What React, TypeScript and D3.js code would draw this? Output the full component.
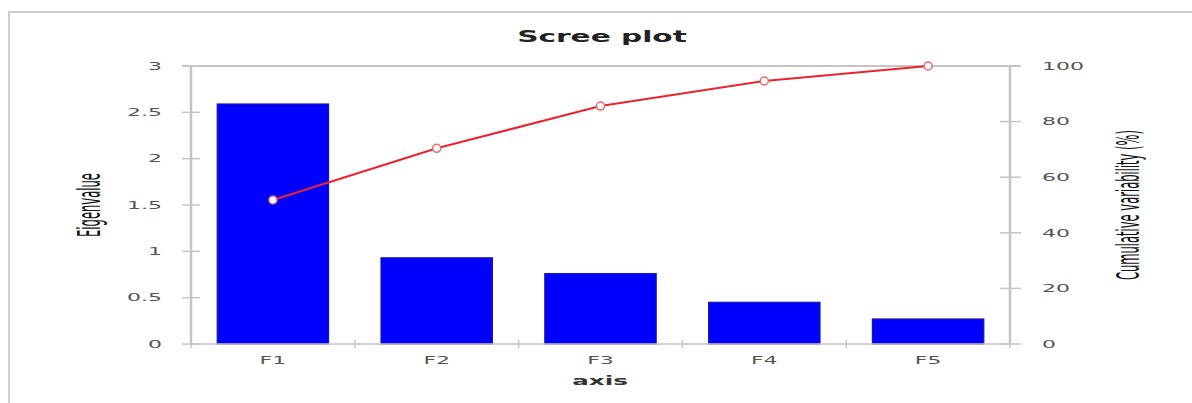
import React from 'react';
import * as d3 from 'd3';

const categories = ['F1', 'F2', 'F3', 'F4', 'F5'];
const eigenvalues = [2.59, 0.93, 0.76, 0.45, 0.27];
const cumulative = [51.8, 70.4, 85.6, 94.6, 100];
const leftTicks = [0, 0.5, 1, 1.5, 2, 2.5, 3];
const rightTicks = [0, 20, 40, 60, 80, 100];

const W = 1192;
const H = 403;
const plot = { left: 191, right: 1010, top: 66, bottom: 344 };
const grey = '#c4c4c4';
const font = '"DejaVu Sans", sans-serif';

const App: React.FC = () => {
  const x = d3.scaleBand<string>()
    .domain(categories)
    .range([plot.left, plot.right])
    .paddingInner(0.32)
    .paddingOuter(0.16);

  const yL = d3.scaleLinear().domain([0, 3]).range([plot.bottom, plot.top]);
  const yR = d3.scaleLinear().domain([0, 100]).range([plot.bottom, plot.top]);

  const cx = (i: number) => (x(categories[i]) as number) + x.bandwidth() / 2;

  const line = d3.line<number>()
    .x((_, i) => cx(i))
    .y(d => yR(d));

  // category boundaries for the small x ticks
  const bounds = d3.range(categories.length + 1).map(i => plot.left + i * (plot.right - plot.left) / categories.length);

  return (
    <svg width={W} height={H} style={{ position: 'absolute', left: 0, top: 0, background: '#fff' }}>
      {/* outer frame */}
      <rect x={9} y={12} width={W + 20} height={H + 20} fill="none" stroke="#bdbdbd" strokeWidth={1.5} />

      {/* title */}
      <text transform={`translate(602,42) scale(1.85,1)`} textAnchor="middle" fontFamily={font}
        fontWeight="bold" fontSize={16} fill="#222">Scree plot</text>

      {/* top border of plot */}
      <line x1={183} x2={1020} y1={plot.top} y2={plot.top} stroke={grey} strokeWidth={2} />

      {/* bars */}
      {eigenvalues.map((v, i) => (
        <rect key={categories[i]} x={x(categories[i])} y={yL(v)} width={x.bandwidth()}
          height={yL(0) - yL(v)} fill="#0000ff" stroke="#1a1aa0" strokeWidth={1.2} />
      ))}

      {/* x axis */}
      <line x1={plot.left} x2={plot.right} y1={plot.bottom} y2={plot.bottom} stroke={grey} strokeWidth={1.5} />
      {bounds.map((b, i) => (
        <line key={i} x1={b} x2={b} y1={plot.bottom - 4} y2={plot.bottom + 4} stroke={grey} strokeWidth={1.5} />
      ))}
      {categories.map((c, i) => (
        <text key={c} transform={`translate(${cx(i)},364) scale(2,1)`}
          textAnchor="middle" fontFamily={font} fontSize={11} fill="#555">{c}</text>
      ))}
      <text transform="translate(600,385) scale(1.9,1)" textAnchor="middle" fontFamily={font}
        fontWeight="bold" fontSize={13} fill="#333">axis</text>

      {/* left axis */}
      <line x1={plot.left} x2={plot.left} y1={plot.top} y2={plot.bottom} stroke={grey} strokeWidth={2.5} />
      {leftTicks.map(t => (
        <g key={t}>
          <line x1={182} x2={200} y1={yL(t)} y2={yL(t)} stroke={grey} strokeWidth={1.5} />
          <text transform={`translate(162,${yL(t)}) scale(2,1)`} textAnchor="end" dominantBaseline="central"
            fontFamily={font} fontSize={11} fill="#555">{t}</text>
        </g>
      ))}
      <text transform="translate(89,205) rotate(-90) scale(1,2.5)" textAnchor="middle" dominantBaseline="central"
        fontFamily={font} fontSize={13} fill="#111" textLength={64} lengthAdjust="spacingAndGlyphs">Eigenvalue</text>

      {/* right axis */}
      <line x1={plot.right} x2={plot.right} y1={plot.top} y2={plot.bottom} stroke={grey} strokeWidth={2.5} />
      {rightTicks.map(t => (
        <g key={t}>
          <line x1={1000} x2={1021} y1={yR(t)} y2={yR(t)} stroke={grey} strokeWidth={1.5} />
          <text transform={`translate(1042,${yR(t)}) scale(2,1)`} textAnchor="start" dominantBaseline="central"
            fontFamily={font} fontSize={11} fill="#555">{t}</text>
        </g>
      ))}
      <text transform="translate(1128,205) rotate(-90) scale(1,2.5)" textAnchor="middle" dominantBaseline="central"
        fontFamily={font} fontSize={13} fill="#111" textLength={150} lengthAdjust="spacingAndGlyphs">Cumulative variability (%)</text>

      {/* cumulative line */}
      <path d={line(cumulative) || ''} fill="none" stroke="#e8242c" strokeWidth={2} />
      {cumulative.map((v, i) => (
        <circle key={i} cx={cx(i)} cy={yR(v)} r={4}
          fill="#fff" stroke="#e86870" strokeWidth={1.5} />
      ))}
    </svg>
  );
};

export default App;
